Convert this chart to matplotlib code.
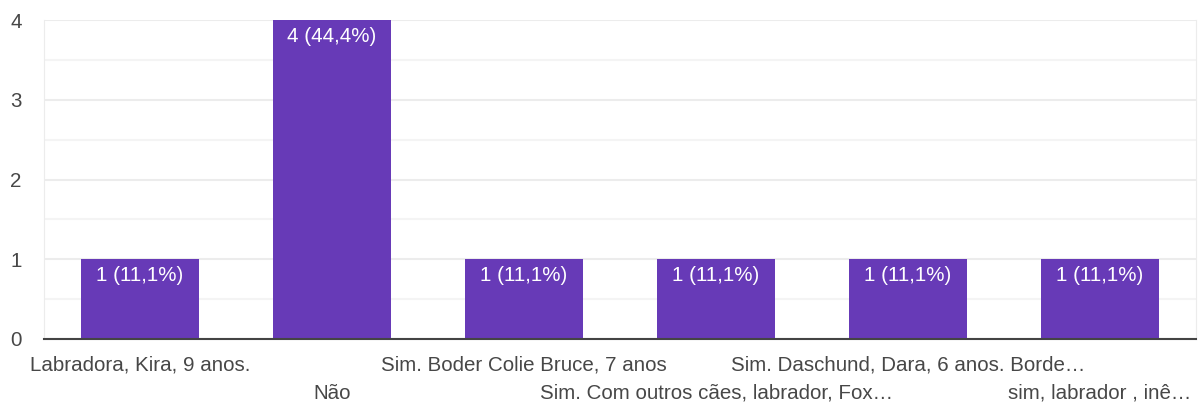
import matplotlib
matplotlib.use("Agg")
import matplotlib.pyplot as plt

categories = ["Labradora, Kira, 9 anos.", "Não", "Sim. Boder Colie Bruce, 7 anos",
              "Sim. Com outros cães, labrador, Fox…", "Sim. Daschund, Dara, 6 anos. Borde…",
              "sim, labrador , inê…"]
counts = [1, 4, 1, 1, 1, 1]
labels = ["1 (11,1%)", "4 (44,4%)", "1 (11,1%)", "1 (11,1%)", "1 (11,1%)", "1 (11,1%)"]
yticks = [0, 1, 2, 3, 4]

plt.rcParams['font.family'] = ['Liberation Sans', 'DejaVu Sans']
fig = plt.figure(figsize=(12, 4.03), dpi=100)
ax = fig.add_axes([44/1200, 1-339/403, (1196-44)/1200, (339-20)/403])

x = list(range(len(categories)))
bars = ax.bar(x, counts, width=0.615, color="#673AB7", zorder=3)
ax.set_xlim(-0.5, len(categories)-0.5)
ax.set_ylim(0, 4)
ax.set_yticks(yticks)
ax.set_yticks([0.5, 1.5, 2.5, 3.5], minor=True)
ax.grid(axis='y', which='major', color="#ececec", linewidth=1.5, zorder=0)
ax.grid(axis='y', which='minor', color="#f4f4f4", linewidth=1.5, zorder=0)
ax.tick_params(axis='y', which='both', length=0, labelsize=14.8, labelcolor="#474747", pad=16)
ax.tick_params(axis='x', length=0)
ax.set_xticks(x)
ax.set_xticklabels([])
ax.spines['top'].set_visible(False)
ax.spines['left'].set_color("#ececec")
ax.spines['right'].set_color("#ececec")
ax.spines['bottom'].set_color("#444444")
ax.spines['bottom'].set_linewidth(1.5)
ax.spines['bottom'].set_zorder(4)

for i, (b, lab) in enumerate(zip(bars, labels)):
    ax.annotate(lab, (b.get_x() + b.get_width()/2, b.get_height()), xytext=(0, -12),
                textcoords='offset points', ha='center', va='center',
                color='white', fontsize=14.8, zorder=5)

for i, cat in enumerate(categories):
    off = -19 if i % 2 == 0 else -39
    ax.annotate(cat, (i, 0), xytext=(0, off), textcoords='offset points',
                ha='center', va='center', color="#474747", fontsize=14.8,
                annotation_clip=False)

fig.savefig("out.png", dpi=100, facecolor="white")
